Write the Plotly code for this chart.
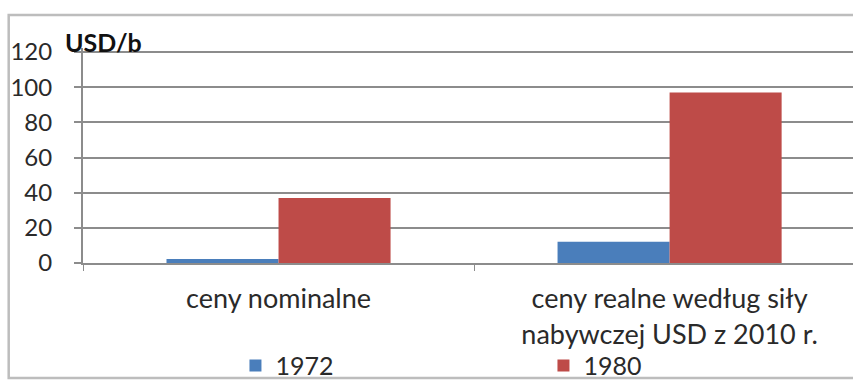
import plotly.graph_objects as go

# Oil prices, USD per barrel
categories = ["ceny nominalne", "ceny realne według siły<br>nabywczej USD z 2010 r."]
years = ["1972", "1980"]
values_1972 = [2.3, 12.1]
values_1980 = [37, 97]
y_ticks = [0, 20, 40, 60, 80, 100, 120]

colors = {"1972": "#4A7EBB", "1980": "#BE4B48"}
font_family = "Lato, 'Open Sans', sans-serif"
text_color = "#2a2a2a"
grid_color = "#8c8c8c"

fig = go.Figure()
for year, vals in zip(years, [values_1972, values_1980]):
    fig.add_trace(go.Bar(
        x=categories, y=vals, name=year,
        marker=dict(color=colors[year], line=dict(width=0)),
    ))

fig.update_layout(
    width=853, height=380,
    margin=dict(l=83, r=0, t=48, b=117, autoexpand=False),
    paper_bgcolor="white", plot_bgcolor="white",
    barmode="group", bargap=0.427, bargroupgap=0,
    font=dict(family=font_family, size=26, color=text_color),
    showlegend=True,
    legend=dict(
        orientation="h", x=0.198, xanchor="left", y=-0.478, yanchor="middle",
        font=dict(size=25, color=text_color),
        entrywidth=263, entrywidthmode="pixels",
        bgcolor="rgba(0,0,0,0)", traceorder="normal",
        itemclick=False, itemdoubleclick=False,
    ),
    xaxis=dict(
        type="category", range=[-0.5, 1.469], automargin=False,
        showgrid=False, showline=True, linecolor=grid_color, linewidth=2,
        ticks="outside", tickson="boundaries", ticklen=6, tickcolor=grid_color,
        tickfont=dict(size=27, color=text_color), ticklabelstandoff=11,
        fixedrange=True,
    ),
    yaxis=dict(
        range=[0, 122.3], tickvals=y_ticks, automargin=False,
        showgrid=True, gridcolor=grid_color, gridwidth=2,
        showline=True, linecolor=grid_color, linewidth=2,
        ticks="outside", ticklen=7, tickcolor=grid_color, tickwidth=2,
        tickfont=dict(size=24, color=text_color), ticklabelstandoff=17,
        zeroline=False, fixedrange=True,
    ),
)

# unit label above the value axis
fig.add_annotation(
    text="<b>USD/b</b>", xref="paper", yref="paper",
    x=-0.026, y=1.028, xanchor="left", yanchor="middle",
    showarrow=False, font=dict(size=25, color="#111111", family=font_family),
)

# outer chart frame
fig.add_shape(
    type="rect", xref="paper", yref="paper",
    x0=-0.0965, x1=1.2, y0=-0.535, y1=1.1535,
    line=dict(color="#bdbdbd", width=2.5), fillcolor="rgba(0,0,0,0)", layer="below",
)

fig.write_html("out.html")
